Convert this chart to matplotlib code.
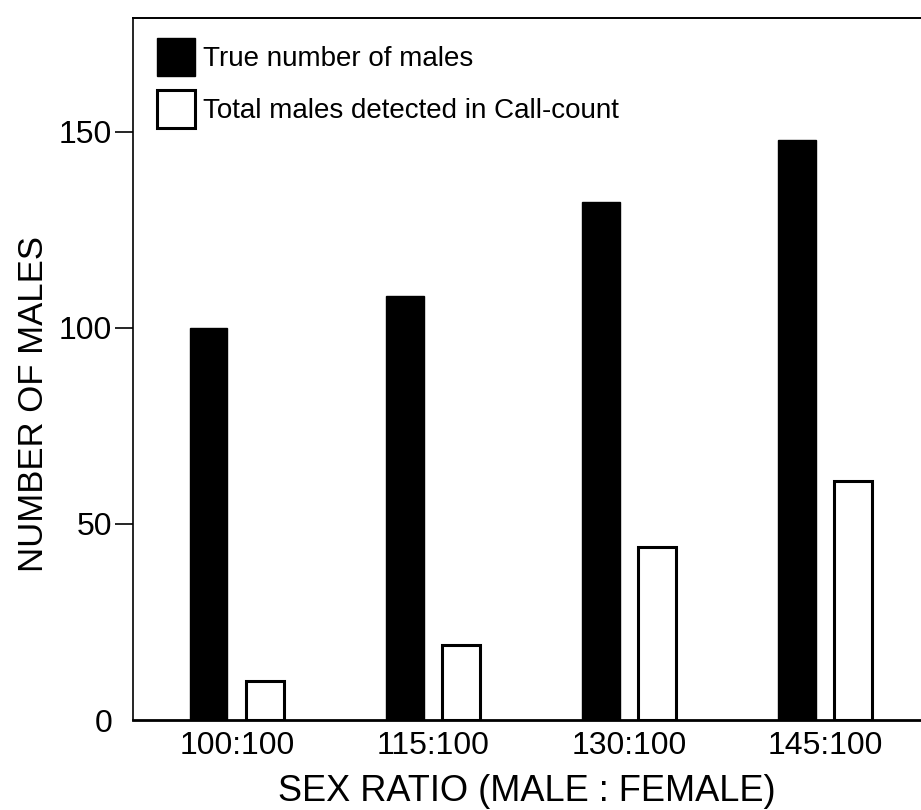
import matplotlib
matplotlib.use("Agg")
import matplotlib.pyplot as plt
from matplotlib.patches import Patch
import numpy as np

categories = ["100:100", "115:100", "130:100", "145:100"]
true_males = [100, 108, 132, 148]
detected_males = [10, 19, 44, 61]
yticks = [0, 50, 100, 150]

plt.rcParams['font.family'] = ['Liberation Sans', 'DejaVu Sans']

fig = plt.figure(figsize=(9.21, 8.10), dpi=100)
ax = fig.add_axes([133/921, 1 - 720/810, 1 - 133/921, (720 - 18)/810])

x = np.arange(len(categories))
w = 0.19
off = 0.143
ax.bar(x - off, true_males, width=w, color='black', edgecolor='black', linewidth=1)
ax.bar(x + off, detected_males, width=w, color='white', edgecolor='black', linewidth=2.2)

ax.set_xlim(-0.53, 3.49)
ax.set_ylim(0, 179)
ax.set_xticks(x)
ax.set_xticklabels(categories, fontsize=23)
ax.set_yticks(yticks)
ax.set_yticklabels([str(v) for v in yticks], fontsize=23)
ax.tick_params(axis='x', length=0, pad=8)
ax.tick_params(axis='y', length=13, width=1.2, pad=2)
ax.yaxis.get_major_ticks()[0].tick1line.set_visible(False)

ax.spines['right'].set_visible(False)
ax.spines['left'].set_linewidth(1.2)
ax.spines['top'].set_linewidth(1.4)
ax.spines['bottom'].set_linewidth(2)

ax.set_xlabel("SEX RATIO (MALE : FEMALE)", fontsize=26, labelpad=9)
ax.set_ylabel("NUMBER OF MALES", fontsize=25)
ax.yaxis.set_label_coords(-0.105, 0.45)

handles = [Patch(facecolor='black', edgecolor='black'),
           Patch(facecolor='white', edgecolor='black', linewidth=2.2)]
ax.legend(handles, ["True number of males", "Total males detected in Call-count"],
          loc='upper left', bbox_to_anchor=(0.030, 0.9715), frameon=False,
          fontsize=20, handlelength=1.37, handleheight=1.73, handletextpad=0.3,
          labelspacing=0.5, borderpad=0, borderaxespad=0)

fig.savefig("out.png", dpi=100)
